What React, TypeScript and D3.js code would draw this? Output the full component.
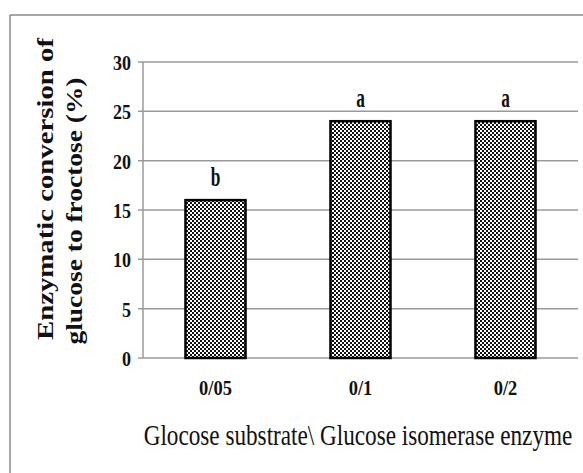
import React from "react";
import * as d3 from "d3";

// categories (substrate / enzyme ratio), conversion values and significance letters
const categories = ["0/05", "0/1", "0/2"];
const conversion = [16, 24, 24];
const groups = ["b", "a", "a"];
const yTicks = [0, 5, 10, 15, 20, 25, 30];

const yTitle = ["Enzymatic conversion of", "glucose to froctose (%)"];
const xTitle = "Glocose substrate\\ Glucose isomerase enzyme";

const W = 583;
const H = 473;
const serif = "'Liberation Serif', 'Times New Roman', serif";

const App: React.FC = () => {
  const plot = { left: 143, right: 578, top: 62, bottom: 358 };

  const x = d3
    .scaleBand<string>()
    .domain(categories)
    .range([plot.left, plot.right])
    .paddingInner(0.586)
    .paddingOuter(0.293);

  const y = d3.scaleLinear().domain([0, 30]).range([plot.bottom, plot.top]);

  return (
    <svg
      width={W}
      height={H}
      style={{ position: "absolute", left: 0, top: 0, background: "#fff" }}
    >
      <defs>
        <pattern id="checker" width={4} height={4} patternUnits="userSpaceOnUse">
          <rect width={4} height={4} fill="#fff" />
          <rect x={0} y={0} width={2} height={2} fill="#111" />
          <rect x={2} y={2} width={2} height={2} fill="#111" />
        </pattern>
      </defs>

      {/* outer frame (only top and left visible) */}
      <line x1={10} x2={W} y1={15} y2={15} stroke="#8a8a8a" strokeWidth={1.5} />
      <line x1={10} x2={10} y1={15} y2={H} stroke="#8a8a8a" strokeWidth={1.5} />

      {/* gridlines + y ticks */}
      {yTicks.map((t) => (
        <g key={t}>
          <line
            x1={plot.left - 5}
            x2={plot.right}
            y1={y(t)}
            y2={y(t)}
            stroke="#9a9a9a"
            strokeWidth={1.5}
          />
          <text
            transform={`translate(131, ${y(t)}) scale(0.82, 1)`}
            dy="0.36em"
            textAnchor="end"
            fontFamily={serif}
            fontWeight="bold"
            fontSize={22}
            fill="#111"
          >
            {t}
          </text>
        </g>
      ))}
      <line
        x1={plot.left}
        x2={plot.left}
        y1={plot.top}
        y2={plot.bottom}
        stroke="#9a9a9a"
        strokeWidth={1.5}
      />

      {/* bars */}
      {categories.map((c, i) => (
        <g key={c}>
          <rect
            x={x(c)!}
            y={y(conversion[i])}
            width={x.bandwidth()}
            height={y(0) - y(conversion[i])}
            fill="url(#checker)"
            stroke="#000"
            strokeWidth={2.5}
          />
          <text
            transform={`translate(${x(c)! + x.bandwidth() / 2}, ${y(conversion[i]) - 14}) scale(0.62, 1)`}
            textAnchor="middle"
            fontFamily={serif}
            fontWeight="bold"
            fontSize={28}
            fill="#111"
          >
            {groups[i]}
          </text>
          <text
            transform={`translate(${x(c)! + x.bandwidth() / 2}, 395) scale(0.84, 1)`}
            textAnchor="middle"
            fontFamily={serif}
            fontWeight="bold"
            fontSize={22}
            fill="#111"
          >
            {c}
          </text>
        </g>
      ))}

      {/* axis titles */}
      <text
        transform="translate(358, 445) scale(0.773, 1)"
        textAnchor="middle"
        fontFamily={serif}
        fontSize={30}
        fill="#111"
      >
        {xTitle}
      </text>
      <text
        transform="translate(53, 189) rotate(-90)"
        textAnchor="middle"
        fontFamily={serif}
        fontWeight="bold"
        fontSize={24}
        textLength={302}
        lengthAdjust="spacingAndGlyphs"
        fill="#111"
      >
        {yTitle[0]}
      </text>
      <text
        transform="translate(82, 211) rotate(-90)"
        textAnchor="middle"
        fontFamily={serif}
        fontWeight="bold"
        fontSize={24}
        textLength={267}
        lengthAdjust="spacingAndGlyphs"
        fill="#111"
      >
        {yTitle[1]}
      </text>
    </svg>
  );
};

export default App;
